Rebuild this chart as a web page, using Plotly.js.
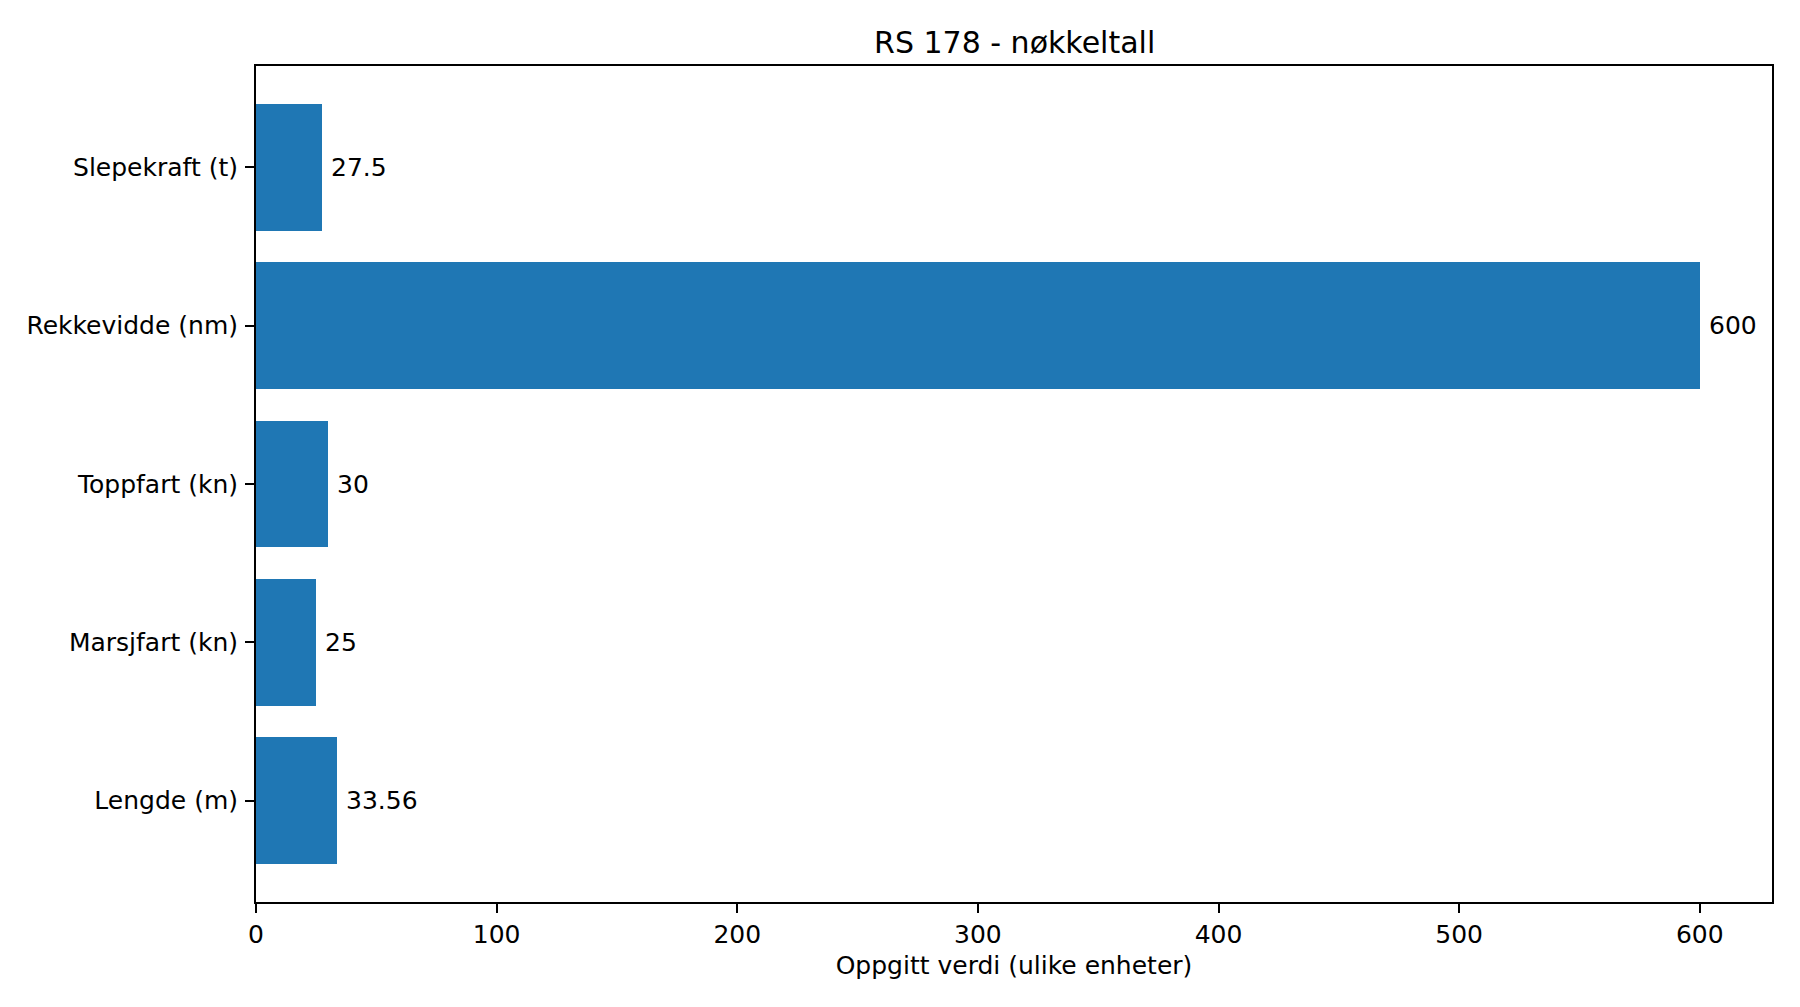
<!DOCTYPE html>
<html>
<head>
<meta charset="utf-8">
<script src="https://cdn.plot.ly/plotly-3.0.1.min.js"></script>
<style>
  html, body { margin: 0; padding: 0; background: white; }
  #plot { width: 1800px; height: 1007px; }
</style>
</head>
<body>
<div id="plot"></div>
<script>
// Key figures, bottom to top as drawn
const categories = ['Lengde (m)', 'Marsjfart (kn)', 'Toppfart (kn)', 'Rekkevidde (nm)', 'Slepekraft (t)'];
const values = [33.56, 25, 30, 600, 27.5];
const valueLabels = ['33.56', '25', '30', '600', '27.5'];
const xTicks = [0, 100, 200, 300, 400, 500, 600];

const font = 'DejaVu Sans, sans-serif';

const bars = {
  type: 'bar',
  orientation: 'h',
  x: values,
  y: categories,
  width: 0.8,
  marker: { color: '#1f77b4', line: { width: 0 } },
  hoverinfo: 'x+y'
};

// value labels next to each bar end
const annos = values.map((v, i) => ({
  x: v,
  y: categories[i],
  xref: 'x',
  yref: 'y',
  text: valueLabels[i],
  showarrow: false,
  xanchor: 'left',
  yanchor: 'middle',
  xshift: 7,
  font: { family: font, size: 25, color: 'black' }
}));

const layout = {
  width: 1800,
  height: 1007,
  margin: { l: 256, r: 28, t: 66, b: 105 },
  paper_bgcolor: 'white',
  plot_bgcolor: 'white',
  font: { family: font, size: 25, color: 'black' },
  showlegend: false,
  bargap: 0,
  title: {
    text: 'RS 178 - nøkkeltall',
    font: { family: font, size: 30, color: 'black' },
    x: 0.5637,
    xanchor: 'center',
    yref: 'container',
    y: 1 - 53 / 1007,
    yanchor: 'bottom'
  },
  xaxis: {
    range: [0, 630],
    tickvals: xTicks,
    ticktext: xTicks.map(String),
    showgrid: false,
    zeroline: false,
    showline: true,
    mirror: true,
    linecolor: 'black',
    linewidth: 2,
    ticks: 'outside',
    ticklen: 9,
    tickwidth: 2,
    tickcolor: 'black',
    tickfont: { family: font, size: 25, color: 'black' },
    title: {
      text: 'Oppgitt verdi (ulike enheter)',
      font: { family: font, size: 25, color: 'black' },
      standoff: 8
    }
  },
  yaxis: {
    type: 'category',
    categoryorder: 'array',
    categoryarray: categories,
    range: [-0.64, 4.64],
    showgrid: false,
    zeroline: false,
    showline: true,
    mirror: true,
    linecolor: 'black',
    linewidth: 2,
    ticks: 'outside',
    ticklen: 9,
    tickwidth: 2,
    tickcolor: 'black',
    ticklabelstandoff: 2,
    tickfont: { family: font, size: 25, color: 'black' }
  },
  annotations: annos
};

Plotly.newPlot('plot', [bars], layout, { staticPlot: true, displayModeBar: false });
</script>
</body>
</html>
